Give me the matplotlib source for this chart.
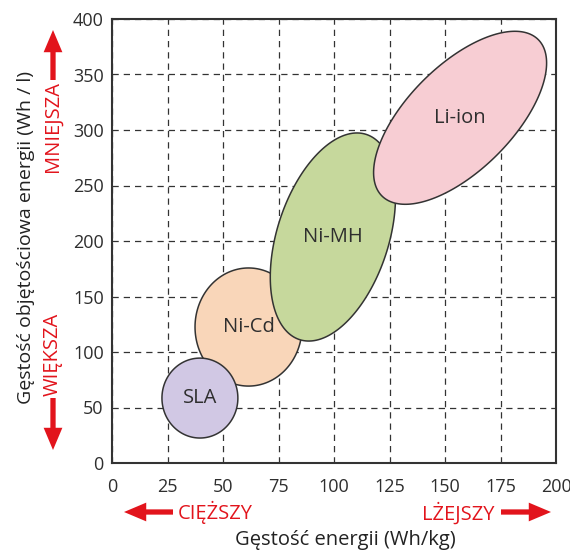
import numpy as np
import matplotlib
matplotlib.use("Agg")
import matplotlib.pyplot as plt
from matplotlib.patches import Polygon, FancyArrowPatch

plt.rcParams['font.family'] = ['Open Sans', 'DejaVu Sans']

# battery chemistries: centre (Wh/kg, Wh/l), semi-axes (in Wh/kg units), tilt (deg, on screen)
names = ['Ni-Cd', 'SLA', 'Ni-MH', 'Li-ion']
cx = [61.5, 39.6, 99.5, 156.8]
cy = [122.5, 58.5, 203.6, 311.0]
semi_a = [24.1, 17.1, 48.6, 49.8]
semi_b = [26.6, 18.0, 25.1, 23.6]
tilt = [0, 0, 72, 45]
fills = ['#f9d6b9', '#d1c8e4', '#c6d89c', '#f7cdd3']

x_ticks = [0, 25, 50, 75, 100, 125, 150, 175, 200]
y_ticks = [0, 50, 100, 150, 200, 250, 300, 350, 400]

red = '#e2141c'

fig = plt.figure(figsize=(5.70, 5.51), dpi=100)
ax = fig.add_axes([112 / 570, 1 - 463 / 551, 444 / 570, 444 / 551])
ax.set_xlim(0, 200)
ax.set_ylim(0, 400)
ax.set_xticks(x_ticks)
ax.set_yticks(y_ticks)
ax.tick_params(length=0, labelsize=13, colors='#2e2e2e', pad=6)
ax.tick_params(axis='x', pad=11)
ax.grid(True, color='#333333', linestyle=(0, (5, 4)), linewidth=0.9)
ax.set_axisbelow(True)
for s in ax.spines.values():
    s.set_color('#333333')
    s.set_linewidth(1.5)

# y scale is half the x scale on screen, so y offsets are doubled
t = np.linspace(0, 2 * np.pi, 200)
for i in range(len(names)):
    th = np.radians(tilt[i])
    a, b = semi_a[i], semi_b[i]
    px = cx[i] + a * np.cos(t) * np.cos(th) - b * np.sin(t) * np.sin(th)
    py = cy[i] + 2 * (a * np.cos(t) * np.sin(th) + b * np.sin(t) * np.cos(th))
    ax.add_patch(Polygon(np.column_stack([px, py]), closed=True, facecolor=fills[i],
                         edgecolor='#333333', linewidth=1.1, zorder=3 + i))
    ax.text(cx[i], cy[i], names[i], ha='center', va='center', fontsize=14.5,
            color='#2e2e2e', zorder=10)

fig.text(345 / 570, 1 - 540 / 551, 'Gęstość energii (Wh/kg)', ha='center', va='center',
         fontsize=14.5, color='#222222')
fig.text(26 / 570, 1 - 237 / 551, 'Gęstość objętościowa energii (Wh / l)', ha='center',
         va='center', rotation=90, fontsize=14, color='#222222')

# red hints
fig.text(53 / 570, 1 - 126 / 551, 'MNIEJSZA', rotation=90, ha='center', va='center',
         fontsize=14.5, color=red)
fig.text(53 / 570, 1 - 354 / 551, 'WIĘKSZA', rotation=90, ha='center', va='center',
         fontsize=14.5, color=red)
fig.text(215 / 570, 1 - 512 / 551, 'CIĘŻSZY', ha='center', va='center',
         fontsize=14.5, color=red)
fig.text(458 / 570, 1 - 513 / 551, 'LŻEJSZY', ha='center', va='center',
         fontsize=14.5, color=red)

arrow = dict(arrowstyle='simple,head_length=1.6,head_width=1.35,tail_width=0.38',
             color=red, mutation_scale=10, shrinkA=0, shrinkB=0, lw=0)
for tail, tip in [((53, 80), (53, 30)), ((53, 398), (53, 450)),
                  ((173, 512), (124, 512)), ((501, 512), (551, 512))]:
    fig.add_artist(FancyArrowPatch((tail[0], 551 - tail[1]), (tip[0], 551 - tip[1]),
                                   transform=None, **arrow))

fig.savefig('out.png', dpi=100)
